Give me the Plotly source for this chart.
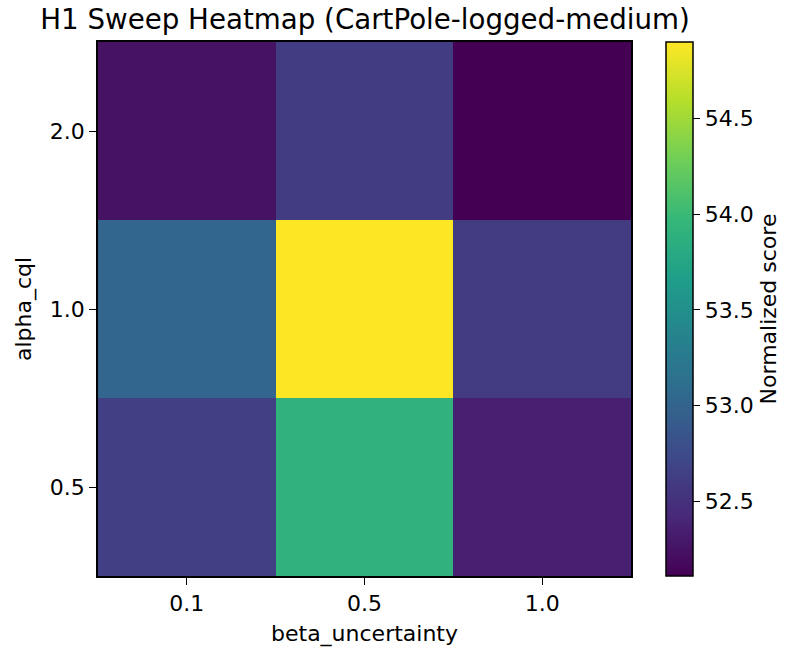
import plotly.graph_objects as go

beta_labels = ["0.1", "0.5", "1.0"]
alpha_labels = ["0.5", "1.0", "2.0"]
# rows follow alpha_labels (bottom to top), columns follow beta_labels
scores_alpha_05 = [52.65, 53.91, 52.36]
scores_alpha_10 = [53.02, 54.90, 52.60]
scores_alpha_20 = [52.25, 52.62, 52.11]
cbar_ticks = [52.5, 53.0, 53.5, 54.0, 54.5]

z = [scores_alpha_05, scores_alpha_10, scores_alpha_20]

W, H = 792, 647
L, R, T, B = 98, 632, 42, 576
pw = R - L

font = "DejaVu Sans"
fs = 22

fig = go.Figure(go.Heatmap(
    x=beta_labels, y=alpha_labels, z=z,
    colorscale="Viridis",
    zmin=min(min(r) for r in z), zmax=max(max(r) for r in z),
    xgap=0, ygap=0,
    colorbar=dict(
        x=(666 - L) / pw, xanchor="left", xpad=0, xref="paper",
        y=0.5, yanchor="middle", ypad=0, len=1.0, lenmode="fraction",
        thickness=27, outlinewidth=1.5, outlinecolor="black",
        tickvals=cbar_ticks, ticktext=[f"{v:.1f}" for v in cbar_ticks],
        ticks="outside", ticklen=7, tickwidth=1.2, tickcolor="black",
        tickfont=dict(family=font, size=fs, color="black"),
        title=dict(text="Normalized score", side="right",
                   font=dict(family=font, size=fs, color="black")),
    ),
))

axis_common = dict(
    type="category", showgrid=False, zeroline=False,
    showline=True, linecolor="black", linewidth=1.5, mirror=True,
    ticks="outside", ticklen=7, tickwidth=1.2, tickcolor="black",
    tickfont=dict(family=font, size=fs, color="black"),
    automargin=False,
)

fig.update_layout(
    width=W, height=H,
    margin=dict(l=L, r=W - R, t=T, b=H - B, pad=0),
    paper_bgcolor="white", plot_bgcolor="white",
    title=dict(text="H1 Sweep Heatmap (CartPole-logged-medium)",
               x=(L + R) / 2 / W, xanchor="center",
               y=1 - 19.5 / H, yanchor="middle",
               font=dict(family=font, size=27.7, color="black")),
    xaxis=dict(**axis_common,
               title=dict(text="beta_uncertainty", standoff=10,
                          font=dict(family=font, size=fs, color="black"))),
    yaxis=dict(**axis_common,
               title=dict(text="alpha_cql", standoff=12,
                          font=dict(family=font, size=fs, color="black"))),
)

fig.write_html("out.html")
